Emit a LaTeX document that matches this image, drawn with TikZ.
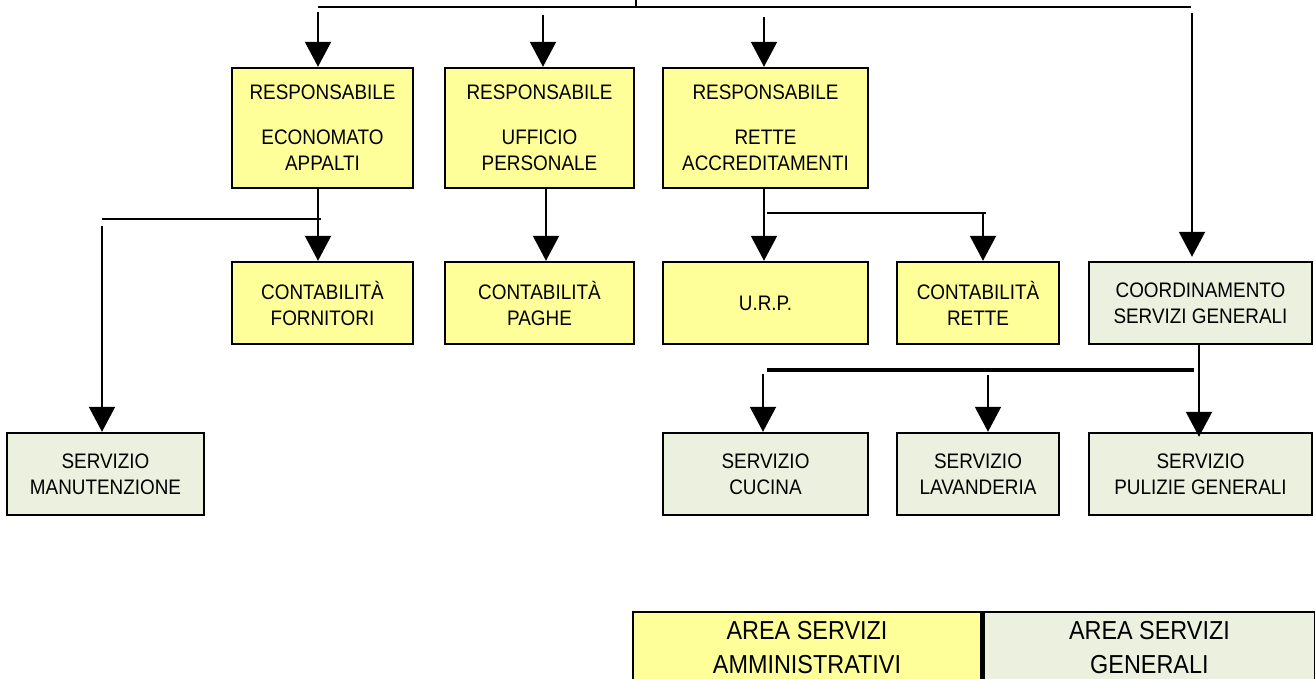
\documentclass[tikz,border=0pt]{standalone}
\usepackage{fontspec}
\setmainfont{Liberation Sans}[FakeStretch=0.9]
\usetikzlibrary{arrows.meta}
\definecolor{admyellow}{HTML}{FFFF99}
\definecolor{gengreen}{HTML}{EBF1DE}
\tikzset{
  box/.style={draw, line width=2.4pt, align=center, inner sep=0pt,
    font=\fontsize{21}{26}\selectfont},
  adm/.style={box, fill=admyellow},
  gen/.style={box, fill=gengreen},
  arr/.style={line width=2pt, -{Triangle[length=25pt,width=26pt]}},
  bar/.style={line width=2pt},
}
\begin{document}
\begin{tikzpicture}[x=1pt,y=-1pt]
        \useasboundingbox (0,0) rectangle (1315,679);
        \clip (0,0) rectangle (1315,679);
        \node(resEco)[adm,minimum width=181,minimum height=120] at (322.5,128)
          {RESPONSABILE\\[19pt]ECONOMATO\\APPALTI};
        \node(resUff)[adm,minimum width=189,minimum height=120] at (539.5,128)
          {RESPONSABILE\\[19pt]UFFICIO\\PERSONALE};
        \node(resRette)[adm,minimum width=205,minimum height=120] at (765.5,128)
          {RESPONSABILE\\[19pt]RETTE\\ACCREDITAMENTI};
        \node(contForn)[adm,minimum width=181,minimum height=82] at (322.5,303)
          {CONTABILITÀ\\FORNITORI};
        \node(contPaghe)[adm,minimum width=189,minimum height=82] at (539.5,303)
          {CONTABILITÀ\\PAGHE};
        \node(urp)[adm,minimum width=205,minimum height=82] at (765.5,303)
          {U.R.P.};
        \node(contRette)[adm,minimum width=162,minimum height=82] at (978,303)
          {CONTABILITÀ\\RETTE};
        \node(coordSG)[gen,minimum width=223,minimum height=82] at (1200.5,303)
          {COORDINAMENTO\\SERVIZI GENERALI};
        \node(servManut)[gen,minimum width=197,minimum height=82] at (105.5,474)
          {SERVIZIO\\MANUTENZIONE};
        \node(servCucina)[gen,minimum width=205,minimum height=82] at (765.5,474)
          {SERVIZIO\\CUCINA};
        \node(servLav)[gen,minimum width=162,minimum height=82] at (978,474)
          {SERVIZIO\\LAVANDERIA};
        \node(servPul)[gen,minimum width=223,minimum height=82] at (1200.5,474)
          {SERVIZIO\\PULIZIE GENERALI};
        \node(legAdm)[adm,minimum width=348,minimum height=71,
          font=\fontsize{26}{34}\selectfont] at (807,647.5)
          {AREA SERVIZI\\AMMINISTRATIVI};
        \node(legGen)[gen,minimum width=332,minimum height=71,
          font=\fontsize{26}{34}\selectfont,anchor=west] at (legAdm.east)
          {AREA SERVIZI\\GENERALI};
        \coordinate (topL) at (318,7);
        \coordinate (topR) at (1191,7);
        \coordinate (topTick) at (636,0);
        \coordinate (e1) at (318,12);
        \coordinate (e2) at (543,15);
        \coordinate (e3) at (764,17);
        \coordinate (e4) at (1192,13);
        \draw[bar] (topL) -- (topR);
        \draw[bar] (topTick) -- (topTick |- topL);
        \draw[arr] (e1) -- (e1 |- resEco.north);
        \draw[arr] (e2) -- (e2 |- resUff.north);
        \draw[arr] (e3) -- (e3 |- resRette.north);
        \draw[arr] (e4) -- ([yshift=4pt]e4 |- coordSG.north);
        \coordinate (ecoL) at (102,219);
        \coordinate (ecoR) at (321,219);
        \coordinate (manTop) at (102,226);
        \draw[arr] (e1 |- resEco.south) -- (e1 |- contForn.north);
        \draw[bar] (ecoL) -- (ecoR);
        \draw[arr] (manTop) -- (manTop |- servManut.north);
        \coordinate (uffX) at (546,0);
        \draw[arr] (uffX |- resUff.south) -- (uffX |- contPaghe.north);
        \coordinate (retL) at (767,213);
        \coordinate (retR) at (986,213);
        \coordinate (retX) at (983,213);
        \draw[arr] (e3 |- resRette.south) -- (e3 |- urp.north);
        \draw[bar] (retL) -- (retR);
        \draw[arr] (retX) -- (retX |- contRette.north);
        \coordinate (sgL) at (767,370);
        \coordinate (sgR) at (1194,370);
        \coordinate (pulX) at (1199,0);
        \coordinate (cucTop) at (763,374);
        \coordinate (lavTop) at (988,375);
        \draw[bar,line width=3.2pt] (sgL) -- (sgR);
        \draw[arr] (pulX |- coordSG.south) -- ([yshift=-5pt]pulX |- servPul.north);
        \draw[arr] (cucTop) -- (cucTop |- servCucina.north);
        \draw[arr] (lavTop) -- (lavTop |- servLav.north);
      \end{tikzpicture}
\end{document}
